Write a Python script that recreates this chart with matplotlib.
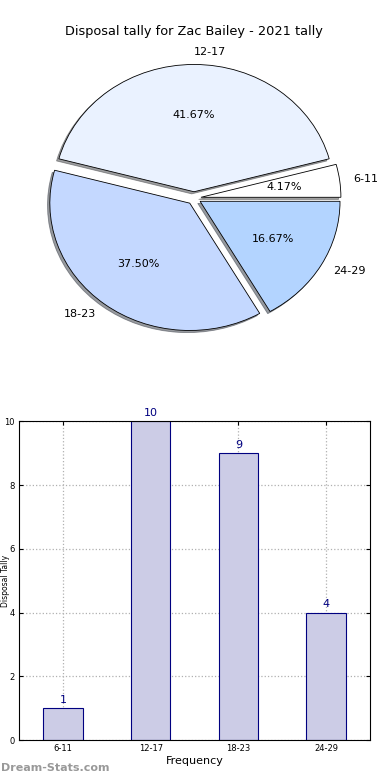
import numpy as np
import matplotlib.pyplot as plt

# disposal counts per bracket
brackets = ['6-11', '12-17', '18-23', '24-29']
counts = [1, 10, 9, 4]
slice_colors = ['#ffffff', '#eaf2ff', '#c4d8ff', '#b3d4ff']

fig = plt.figure(figsize=(3.9, 7.8), dpi=100)

# pie on top, stretched (not equal aspect) like the original
ax1 = fig.add_axes([0.049, 0.542, 0.897, 0.408])
wedges, texts, autotexts = ax1.pie(
    counts, labels=brackets, colors=slice_colors, autopct='%1.2f%%',
    explode=[0.05] * len(counts),
    shadow={'ox': -0.012, 'oy': -0.012, 'shade': 0.75},
    startangle=0, labeldistance=1.1, pctdistance=0.6,
    wedgeprops={'edgecolor': 'black', 'linewidth': 0.6},
    textprops={'fontsize': 8})
ax1.set_aspect('auto')
ax1.set_xlim(-1.25, 1.25)
ax1.set_ylim(-1.25, 1.25)
ax1.set_title('Disposal tally for Zac Bailey - 2021 tally', fontsize=9.3, pad=3)

# bar chart below
ax2 = fig.add_axes([0.049, 0.051, 0.9, 0.409])
x = np.arange(len(brackets))
bars = ax2.bar(x, counts, width=0.45, color='#ccccE6', edgecolor='navy', linewidth=0.8, zorder=2)
for xi, c in zip(x, counts):
    ax2.text(xi, c + 0.1, str(c), ha='center', va='bottom', color='navy', fontsize=8)

ax2.set_xlim(-0.5, len(brackets) - 0.5)
ax2.set_ylim(0, 10)
ax2.set_xticks(x)
ax2.set_xticklabels(brackets)
ax2.set_yticks(range(0, 11, 2))
ax2.tick_params(labelsize=6, direction='in', length=3, top=True, right=True, pad=3)
ax2.grid(True, linestyle=':', color='#b0b0b0', linewidth=0.9, zorder=0)
ax2.set_axisbelow(True)
ax2.set_xlabel('Frequency', fontsize=8, labelpad=2)
ax2.set_ylabel('Disposal Tally', fontsize=5.5)
ax2.yaxis.set_label_coords(-0.027, 0.5)

fig.text(0.003, 0.011, 'Dream-Stats.com', fontsize=8, color='#999999', fontweight='bold')

fig.savefig('out.png', dpi=100)
